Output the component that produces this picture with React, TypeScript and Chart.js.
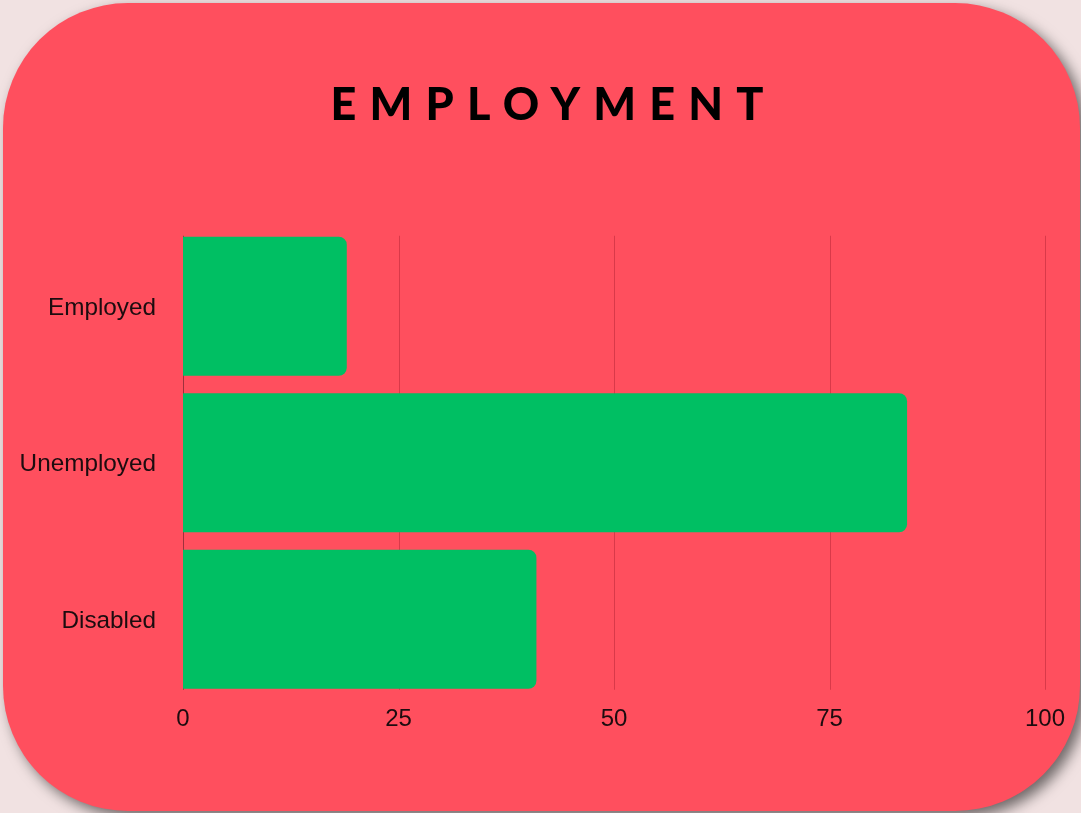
import React, { useEffect, useRef } from "react";
import { Chart, registerables } from "chart.js";

Chart.register(...registerables);

const chartTitle = "EMPLOYMENT";
const categories = ["Employed", "Unemployed", "Disabled"];
const values = [19, 84, 41];
const xTickValues = [0, 25, 50, 75, 100];

const CARD = "#FF4F5E";
const BAR = "#00BF63";
const TEXT = "#1c0c0f";

const gridPlugin = {
  id: "shortGrid",
  beforeDatasetsDraw(chart: any) {
    const meta = chart.getDatasetMeta(0);
    const bars = meta.data as any[];
    if (!bars.length) return;
    let top = Infinity;
    let bottom = -Infinity;
    bars.forEach((b: any) => {
      top = Math.min(top, b.y - b.height / 2);
      bottom = Math.max(bottom, b.y + b.height / 2);
    });
    const xs = chart.scales.x;
    const ctx = chart.ctx;
    ctx.save();
    xs.ticks.forEach((t: any) => {
      const px = Math.round(xs.getPixelForValue(t.value)) + 0.5;
      ctx.beginPath();
      ctx.strokeStyle = t.value === 0 ? "rgba(60,20,25,0.5)" : "rgba(120,0,20,0.28)";
      ctx.lineWidth = 1;
      ctx.moveTo(px, top - 1);
      ctx.lineTo(px, bottom + 1);
      ctx.stroke();
    });
    ctx.restore();
  },
};

const titlePlugin = {
  id: "spacedTitle",
  afterDraw(chart: any) {
    const ctx = chart.ctx;
    ctx.save();
    ctx.font = "900 45px Lato, 'Noto Sans', sans-serif";
    const spacing = 13.2;
    (ctx as any).letterSpacing = spacing + "px";
    ctx.textAlign = "center";
    ctx.textBaseline = "alphabetic";
    ctx.fillStyle = "#000000";
    ctx.fillText(chartTitle, 547 + spacing / 2, 120);
    ctx.restore();
  },
};

export default function App() {
  const ref = useRef<HTMLCanvasElement | null>(null);

  useEffect(() => {
    if (!ref.current) return;
    const chart = new Chart(ref.current, {
      type: "bar",
      data: {
        labels: categories,
        datasets: [
          {
            data: values,
            backgroundColor: BAR,
            borderRadius: 8,
            borderSkipped: "start",
            barPercentage: 0.888,
            categoryPercentage: 1,
          },
        ],
      },
      options: {
        indexAxis: "y",
        responsive: false,
        animation: false,
        devicePixelRatio: 1,
        layout: { padding: { top: 228, left: 0, right: 36, bottom: 0 } },
        plugins: {
          legend: { display: false },
          title: { display: false },
          tooltip: { enabled: false },
        },
        scales: {
          x: {
            type: "linear",
            min: 0,
            max: 100,
            afterBuildTicks: (scale: any) => {
              scale.ticks = xTickValues.map((v) => ({ value: v }));
            },
            afterFit: (scale: any) => {
              scale.height = 115.5;
            },
            grid: { display: false, drawTicks: false },
            border: { display: false },
            ticks: {
              padding: 7,
              color: TEXT,
              font: { family: "'Liberation Sans', Arial, sans-serif", size: 24 },
            },
          },
          y: {
            type: "category",
            afterFit: (scale: any) => {
              scale.width = 183;
            },
            grid: { display: false, drawTicks: false },
            border: { display: false },
            ticks: {
              padding: 27,
              labelOffset: 2,
              color: TEXT,
              font: { family: "'Liberation Sans', Arial, sans-serif", size: 24.3 },
            },
          },
        },
      },
      plugins: [gridPlugin, titlePlugin],
    } as any);
    return () => chart.destroy();
  }, []);

  return (
    <div
      style={{
        position: "fixed",
        left: 0,
        top: 0,
        width: 1081,
        height: 813,
        overflow: "hidden",
        background: "#F1E2E2",
      }}
    >
      <div
        style={{
          position: "absolute",
          left: 3,
          top: 3,
          width: 1077,
          height: 808,
          borderRadius: 125,
          background: CARD,
          boxShadow: "6px 6px 14px rgba(0,0,0,0.55)",
        }}
      />
      <canvas
        ref={ref}
        width={1081}
        height={813}
        style={{ position: "absolute", left: 0, top: 0, width: 1081, height: 813 }}
      />
    </div>
  );
}
